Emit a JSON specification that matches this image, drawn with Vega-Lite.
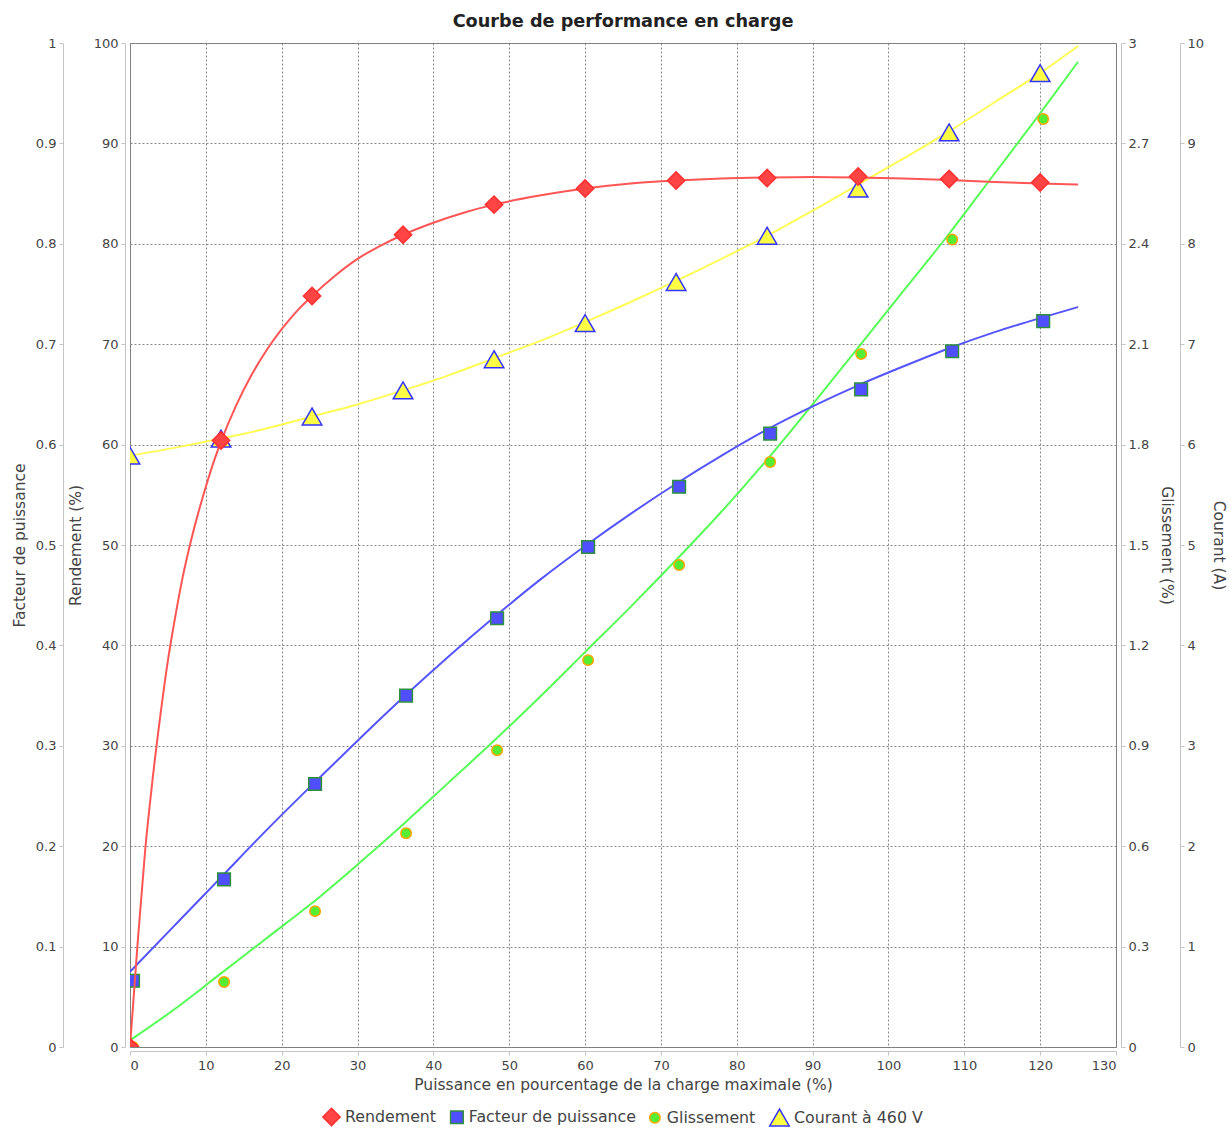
{
  "$schema": "https://vega.github.io/schema/vega-lite/v6.json",
  "width": 986,
  "height": 1004,
  "autosize": {"type": "none"},
  "padding": {"left": 130, "top": 43, "right": 113, "bottom": 81},
  "title": {"text": "Courbe de performance en charge", "fontSize": 17.7, "font": "DejaVu Sans", "fontWeight": "bold", "color": "#222222", "offset": 6, "anchor": "middle"},
  "config": {
    "font": "DejaVu Sans",
    "view": {"stroke": "#777777", "strokeWidth": 1},
    "axis": {"labelFont": "DejaVu Sans", "labelFontSize": 13, "labelColor": "#444444", "titleFont": "DejaVu Sans", "titleFontSize": 15.5, "titleFontWeight": "normal", "titleColor": "#444444", "domainColor": "#c4c4c4", "tickColor": "#c4c4c4", "tickSize": 4, "labelPadding": 3, "grid": false, "gridColor": "#888888", "gridDash": [2, 2], "gridOpacity": 1, "gridWidth": 1},
    "legend": {"labelFont": "DejaVu Sans", "labelFontSize": 15.8, "labelColor": "#444444", "symbolStrokeWidth": 1.5, "columnPadding": 10, "labelOffset": 4, "labelLimit": 400}
  },
  "datasets": {
    "rend_curve": [
      {"x": 0, "v": 0}, {"x": 1, "v": 10.3}, {"x": 2, "v": 19.6}, {"x": 3, "v": 26.8}, {"x": 4, "v": 33.0}, {"x": 5, "v": 38.5}, {"x": 6, "v": 43.0}, {"x": 7, "v": 47.0}, {"x": 8, "v": 50.3}, {"x": 9, "v": 53.2}, {"x": 10, "v": 55.8}, {"x": 11, "v": 58.2}, {"x": 12, "v": 60.3}, {"x": 14, "v": 63.9}, {"x": 16, "v": 66.9}, {"x": 18, "v": 69.4}, {"x": 20, "v": 71.5}, {"x": 22, "v": 73.3}, {"x": 24, "v": 74.8}, {"x": 27, "v": 76.8}, {"x": 30, "v": 78.5}, {"x": 33, "v": 79.8}, {"x": 36, "v": 80.9}, {"x": 40, "v": 82.1}, {"x": 44, "v": 83.1}, {"x": 48, "v": 83.9}, {"x": 54, "v": 84.8}, {"x": 60, "v": 85.5}, {"x": 66, "v": 86.0}, {"x": 72, "v": 86.3}, {"x": 78, "v": 86.5}, {"x": 84, "v": 86.6}, {"x": 90, "v": 86.65}, {"x": 96, "v": 86.6}, {"x": 102, "v": 86.5}, {"x": 108, "v": 86.35}, {"x": 114, "v": 86.15}, {"x": 120, "v": 86.0}, {"x": 125, "v": 85.9}
    ],
    "rend_pts": [
      {"x": 0, "v": 0}, {"x": 12, "v": 60.4}, {"x": 24, "v": 74.8}, {"x": 36, "v": 80.9}, {"x": 48, "v": 83.9}, {"x": 60, "v": 85.5}, {"x": 72, "v": 86.3}, {"x": 84, "v": 86.55}, {"x": 96, "v": 86.7}, {"x": 108, "v": 86.45}, {"x": 120, "v": 86.1}
    ],
    "fp_curve": [
      {"x": 0, "v": 0.075}, {"x": 6, "v": 0.122}, {"x": 12, "v": 0.169}, {"x": 18, "v": 0.216}, {"x": 24, "v": 0.261}, {"x": 30, "v": 0.305}, {"x": 36, "v": 0.348}, {"x": 42, "v": 0.389}, {"x": 48, "v": 0.428}, {"x": 54, "v": 0.465}, {"x": 60, "v": 0.499}, {"x": 66, "v": 0.531}, {"x": 72, "v": 0.561}, {"x": 78, "v": 0.589}, {"x": 84, "v": 0.615}, {"x": 90, "v": 0.638}, {"x": 96, "v": 0.659}, {"x": 102, "v": 0.678}, {"x": 108, "v": 0.696}, {"x": 114, "v": 0.712}, {"x": 120, "v": 0.726}, {"x": 125, "v": 0.737}
    ],
    "fp_pts": [
      {"x": 0.4, "v": 0.066}, {"x": 12.4, "v": 0.167}, {"x": 24.4, "v": 0.262}, {"x": 36.4, "v": 0.350}, {"x": 48.4, "v": 0.427}, {"x": 60.4, "v": 0.498}, {"x": 72.4, "v": 0.558}, {"x": 84.4, "v": 0.611}, {"x": 96.4, "v": 0.655}, {"x": 108.4, "v": 0.693}, {"x": 120.4, "v": 0.723}
    ],
    "gl_curve": [
      {"x": 0, "v": 0.02}, {"x": 6, "v": 0.115}, {"x": 12, "v": 0.22}, {"x": 18, "v": 0.325}, {"x": 24, "v": 0.43}, {"x": 30, "v": 0.545}, {"x": 36, "v": 0.665}, {"x": 42, "v": 0.79}, {"x": 48, "v": 0.915}, {"x": 54, "v": 1.045}, {"x": 60, "v": 1.18}, {"x": 66, "v": 1.315}, {"x": 72, "v": 1.455}, {"x": 78, "v": 1.60}, {"x": 84, "v": 1.755}, {"x": 90, "v": 1.92}, {"x": 96, "v": 2.09}, {"x": 102, "v": 2.26}, {"x": 108, "v": 2.43}, {"x": 114, "v": 2.61}, {"x": 120, "v": 2.79}, {"x": 125, "v": 2.944}
    ],
    "gl_pts": [
      {"x": 0.4, "v": 0}, {"x": 12.4, "v": 0.194}, {"x": 24.4, "v": 0.406}, {"x": 36.4, "v": 0.639}, {"x": 48.4, "v": 0.887}, {"x": 60.4, "v": 1.156}, {"x": 72.4, "v": 1.440}, {"x": 84.4, "v": 1.748}, {"x": 96.4, "v": 2.071}, {"x": 108.4, "v": 2.413}, {"x": 120.4, "v": 2.773}
    ],
    "co_curve": [
      {"x": 0, "v": 5.89}, {"x": 6, "v": 5.97}, {"x": 12, "v": 6.06}, {"x": 18, "v": 6.16}, {"x": 24, "v": 6.28}, {"x": 30, "v": 6.40}, {"x": 36, "v": 6.54}, {"x": 42, "v": 6.69}, {"x": 48, "v": 6.86}, {"x": 54, "v": 7.03}, {"x": 60, "v": 7.22}, {"x": 66, "v": 7.42}, {"x": 72, "v": 7.63}, {"x": 78, "v": 7.85}, {"x": 84, "v": 8.08}, {"x": 90, "v": 8.33}, {"x": 96, "v": 8.59}, {"x": 102, "v": 8.85}, {"x": 108, "v": 9.12}, {"x": 114, "v": 9.41}, {"x": 120, "v": 9.70}, {"x": 125, "v": 9.97}
    ],
    "co_pts": [
      {"x": 0, "v": 5.89}, {"x": 12, "v": 6.06}, {"x": 24, "v": 6.28}, {"x": 36, "v": 6.54}, {"x": 48, "v": 6.85}, {"x": 60, "v": 7.21}, {"x": 72, "v": 7.62}, {"x": 84, "v": 8.08}, {"x": 96, "v": 8.55}, {"x": 108, "v": 9.11}, {"x": 120, "v": 9.70}
    ]
  },
  "layer": [
    {
      "layer": [
        {
          "data": {"name": "co_curve"},
          "mark": {"type": "line", "interpolate": "monotone", "color": "#ffff55", "strokeWidth": 2, "clip": true},
          "encoding": {
            "x": {"field": "x", "type": "quantitative", "scale": {"domain": [0, 130], "nice": false}, "axis": {"title": "Puissance en pourcentage de la charge maximale (%)", "values": [0, 10, 20, 30, 40, 50, 60, 70, 80, 90, 100, 110, 120, 130], "grid": true, "offset": 4, "labelPadding": 4, "titlePadding": 5}},
            "y": {"field": "v", "type": "quantitative", "scale": {"domain": [0, 10], "nice": false}, "axis": {"orient": "right", "offset": 64, "title": "Courant (A)", "values": [0, 1, 2, 3, 4, 5, 6, 7, 8, 9, 10], "titlePadding": 7}}
          }
        },
        {
          "data": {"name": "co_pts"},
          "mark": {"type": "point", "filled": true, "clip": true, "strokeWidth": 1.5, "opacity": 1},
          "encoding": {
            "x": {"field": "x", "type": "quantitative", "scale": {"domain": [0, 130], "nice": false}, "axis": {"title": "Puissance en pourcentage de la charge maximale (%)", "values": [0, 10, 20, 30, 40, 50, 60, 70, 80, 90, 100, 110, 120, 130], "grid": true, "offset": 4, "labelPadding": 4, "titlePadding": 5}},
            "y": {"field": "v", "type": "quantitative", "scale": {"domain": [0, 10], "nice": false}, "axis": {"orient": "right", "offset": 64, "title": "Courant (A)", "values": [0, 1, 2, 3, 4, 5, 6, 7, 8, 9, 10], "titlePadding": 7}},
            "fill": {"datum": "Courant à 460 V", "type": "nominal", "scale": {"domain": ["Rendement", "Facteur de puissance", "Glissement", "Courant à 460 V"], "range": ["#ff4444", "#4f4fff", "#55ee33", "#ffff44"]}, "legend": {"title": null, "orient": "none", "direction": "horizontal", "legendX": 192, "legendY": 1064}},
            "stroke": {"datum": "Courant à 460 V", "type": "nominal", "scale": {"domain": ["Rendement", "Facteur de puissance", "Glissement", "Courant à 460 V"], "range": ["#ff3030", "#2f8f3f", "#ffa500", "#3333ff"]}, "legend": {"title": null, "orient": "none", "direction": "horizontal", "legendX": 192, "legendY": 1064}},
            "shape": {"datum": "Courant à 460 V", "type": "nominal", "scale": {"domain": ["Rendement", "Facteur de puissance", "Glissement", "Courant à 460 V"], "range": ["diamond", "square", "circle", "triangle-up"]}, "legend": {"title": null, "orient": "none", "direction": "horizontal", "legendX": 192, "legendY": 1064}},
            "size": {"datum": "Courant à 460 V", "type": "nominal", "scale": {"type": "ordinal", "domain": ["Rendement", "Facteur de puissance", "Glissement", "Courant à 460 V"], "range": [300, 160, 110, 380]}, "legend": {"title": null, "orient": "none", "direction": "horizontal", "legendX": 192, "legendY": 1064}}
          }
        }
      ]
    },
    {
      "layer": [
        {
          "data": {"name": "gl_curve"},
          "mark": {"type": "line", "interpolate": "monotone", "color": "#55ff55", "strokeWidth": 2, "clip": true},
          "encoding": {
            "x": {"field": "x", "type": "quantitative", "scale": {"domain": [0, 130], "nice": false}, "axis": {"title": "Puissance en pourcentage de la charge maximale (%)", "values": [0, 10, 20, 30, 40, 50, 60, 70, 80, 90, 100, 110, 120, 130], "grid": true, "offset": 4, "labelPadding": 4, "titlePadding": 5}},
            "y": {"field": "v", "type": "quantitative", "scale": {"domain": [0, 3], "nice": false}, "axis": {"orient": "right", "offset": 5, "title": "Glissement (%)", "values": [0, 0.3, 0.6, 0.9, 1.2, 1.5, 1.8, 2.1, 2.4, 2.7, 3], "format": ".1~f", "titlePadding": 10}}
          }
        },
        {
          "data": {"name": "gl_pts"},
          "mark": {"type": "point", "filled": true, "clip": true, "strokeWidth": 1.5, "opacity": 1},
          "encoding": {
            "x": {"field": "x", "type": "quantitative", "scale": {"domain": [0, 130], "nice": false}, "axis": {"title": "Puissance en pourcentage de la charge maximale (%)", "values": [0, 10, 20, 30, 40, 50, 60, 70, 80, 90, 100, 110, 120, 130], "grid": true, "offset": 4, "labelPadding": 4, "titlePadding": 5}},
            "y": {"field": "v", "type": "quantitative", "scale": {"domain": [0, 3], "nice": false}, "axis": {"orient": "right", "offset": 5, "title": "Glissement (%)", "values": [0, 0.3, 0.6, 0.9, 1.2, 1.5, 1.8, 2.1, 2.4, 2.7, 3], "format": ".1~f", "titlePadding": 10}},
            "fill": {"datum": "Glissement", "type": "nominal", "scale": {"domain": ["Rendement", "Facteur de puissance", "Glissement", "Courant à 460 V"], "range": ["#ff4444", "#4f4fff", "#55ee33", "#ffff44"]}, "legend": {"title": null, "orient": "none", "direction": "horizontal", "legendX": 192, "legendY": 1064}},
            "stroke": {"datum": "Glissement", "type": "nominal", "scale": {"domain": ["Rendement", "Facteur de puissance", "Glissement", "Courant à 460 V"], "range": ["#ff3030", "#2f8f3f", "#ffa500", "#3333ff"]}, "legend": {"title": null, "orient": "none", "direction": "horizontal", "legendX": 192, "legendY": 1064}},
            "shape": {"datum": "Glissement", "type": "nominal", "scale": {"domain": ["Rendement", "Facteur de puissance", "Glissement", "Courant à 460 V"], "range": ["diamond", "square", "circle", "triangle-up"]}, "legend": {"title": null, "orient": "none", "direction": "horizontal", "legendX": 192, "legendY": 1064}},
            "size": {"datum": "Glissement", "type": "nominal", "scale": {"type": "ordinal", "domain": ["Rendement", "Facteur de puissance", "Glissement", "Courant à 460 V"], "range": [300, 160, 110, 380]}, "legend": {"title": null, "orient": "none", "direction": "horizontal", "legendX": 192, "legendY": 1064}}
          }
        }
      ]
    },
    {
      "layer": [
        {
          "data": {"name": "fp_curve"},
          "mark": {"type": "line", "interpolate": "monotone", "color": "#5555ff", "strokeWidth": 2, "clip": true},
          "encoding": {
            "x": {"field": "x", "type": "quantitative", "scale": {"domain": [0, 130], "nice": false}, "axis": {"title": "Puissance en pourcentage de la charge maximale (%)", "values": [0, 10, 20, 30, 40, 50, 60, 70, 80, 90, 100, 110, 120, 130], "grid": true, "offset": 4, "labelPadding": 4, "titlePadding": 5}},
            "y": {"field": "v", "type": "quantitative", "scale": {"domain": [0, 1], "nice": false}, "axis": {"orient": "left", "offset": 67, "title": "Facteur de puissance", "values": [0, 0.1, 0.2, 0.3, 0.4, 0.5, 0.6, 0.7, 0.8, 0.9, 1], "format": ".1~f", "titlePadding": 8}}
          }
        },
        {
          "data": {"name": "fp_pts"},
          "mark": {"type": "point", "filled": true, "clip": true, "strokeWidth": 1.5, "opacity": 1},
          "encoding": {
            "x": {"field": "x", "type": "quantitative", "scale": {"domain": [0, 130], "nice": false}, "axis": {"title": "Puissance en pourcentage de la charge maximale (%)", "values": [0, 10, 20, 30, 40, 50, 60, 70, 80, 90, 100, 110, 120, 130], "grid": true, "offset": 4, "labelPadding": 4, "titlePadding": 5}},
            "y": {"field": "v", "type": "quantitative", "scale": {"domain": [0, 1], "nice": false}, "axis": {"orient": "left", "offset": 67, "title": "Facteur de puissance", "values": [0, 0.1, 0.2, 0.3, 0.4, 0.5, 0.6, 0.7, 0.8, 0.9, 1], "format": ".1~f", "titlePadding": 8}},
            "fill": {"datum": "Facteur de puissance", "type": "nominal", "scale": {"domain": ["Rendement", "Facteur de puissance", "Glissement", "Courant à 460 V"], "range": ["#ff4444", "#4f4fff", "#55ee33", "#ffff44"]}, "legend": {"title": null, "orient": "none", "direction": "horizontal", "legendX": 192, "legendY": 1064}},
            "stroke": {"datum": "Facteur de puissance", "type": "nominal", "scale": {"domain": ["Rendement", "Facteur de puissance", "Glissement", "Courant à 460 V"], "range": ["#ff3030", "#2f8f3f", "#ffa500", "#3333ff"]}, "legend": {"title": null, "orient": "none", "direction": "horizontal", "legendX": 192, "legendY": 1064}},
            "shape": {"datum": "Facteur de puissance", "type": "nominal", "scale": {"domain": ["Rendement", "Facteur de puissance", "Glissement", "Courant à 460 V"], "range": ["diamond", "square", "circle", "triangle-up"]}, "legend": {"title": null, "orient": "none", "direction": "horizontal", "legendX": 192, "legendY": 1064}},
            "size": {"datum": "Facteur de puissance", "type": "nominal", "scale": {"type": "ordinal", "domain": ["Rendement", "Facteur de puissance", "Glissement", "Courant à 460 V"], "range": [300, 160, 110, 380]}, "legend": {"title": null, "orient": "none", "direction": "horizontal", "legendX": 192, "legendY": 1064}}
          }
        }
      ]
    },
    {
      "layer": [
        {
          "data": {"name": "rend_curve"},
          "mark": {"type": "line", "interpolate": "monotone", "color": "#ff5555", "strokeWidth": 2, "clip": true},
          "encoding": {
            "x": {"field": "x", "type": "quantitative", "scale": {"domain": [0, 130], "nice": false}, "axis": {"title": "Puissance en pourcentage de la charge maximale (%)", "values": [0, 10, 20, 30, 40, 50, 60, 70, 80, 90, 100, 110, 120, 130], "grid": true, "offset": 4, "labelPadding": 4, "titlePadding": 5}},
            "y": {"field": "v", "type": "quantitative", "scale": {"domain": [0, 100], "nice": false}, "axis": {"orient": "left", "offset": 5, "title": "Rendement (%)", "values": [0, 10, 20, 30, 40, 50, 60, 70, 80, 90, 100], "grid": true, "titlePadding": 10}}
          }
        },
        {
          "data": {"name": "rend_pts"},
          "mark": {"type": "point", "filled": true, "clip": true, "strokeWidth": 1.5, "opacity": 1},
          "encoding": {
            "x": {"field": "x", "type": "quantitative", "scale": {"domain": [0, 130], "nice": false}, "axis": {"title": "Puissance en pourcentage de la charge maximale (%)", "values": [0, 10, 20, 30, 40, 50, 60, 70, 80, 90, 100, 110, 120, 130], "grid": true, "offset": 4, "labelPadding": 4, "titlePadding": 5}},
            "y": {"field": "v", "type": "quantitative", "scale": {"domain": [0, 100], "nice": false}, "axis": {"orient": "left", "offset": 5, "title": "Rendement (%)", "values": [0, 10, 20, 30, 40, 50, 60, 70, 80, 90, 100], "grid": true, "titlePadding": 10}},
            "fill": {"datum": "Rendement", "type": "nominal", "scale": {"domain": ["Rendement", "Facteur de puissance", "Glissement", "Courant à 460 V"], "range": ["#ff4444", "#4f4fff", "#55ee33", "#ffff44"]}, "legend": {"title": null, "orient": "none", "direction": "horizontal", "legendX": 192, "legendY": 1064}},
            "stroke": {"datum": "Rendement", "type": "nominal", "scale": {"domain": ["Rendement", "Facteur de puissance", "Glissement", "Courant à 460 V"], "range": ["#ff3030", "#2f8f3f", "#ffa500", "#3333ff"]}, "legend": {"title": null, "orient": "none", "direction": "horizontal", "legendX": 192, "legendY": 1064}},
            "shape": {"datum": "Rendement", "type": "nominal", "scale": {"domain": ["Rendement", "Facteur de puissance", "Glissement", "Courant à 460 V"], "range": ["diamond", "square", "circle", "triangle-up"]}, "legend": {"title": null, "orient": "none", "direction": "horizontal", "legendX": 192, "legendY": 1064}},
            "size": {"datum": "Rendement", "type": "nominal", "scale": {"type": "ordinal", "domain": ["Rendement", "Facteur de puissance", "Glissement", "Courant à 460 V"], "range": [300, 160, 110, 380]}, "legend": {"title": null, "orient": "none", "direction": "horizontal", "legendX": 192, "legendY": 1064}}
          }
        }
      ]
    }
  ],
  "resolve": {"scale": {"y": "independent"}}
}
